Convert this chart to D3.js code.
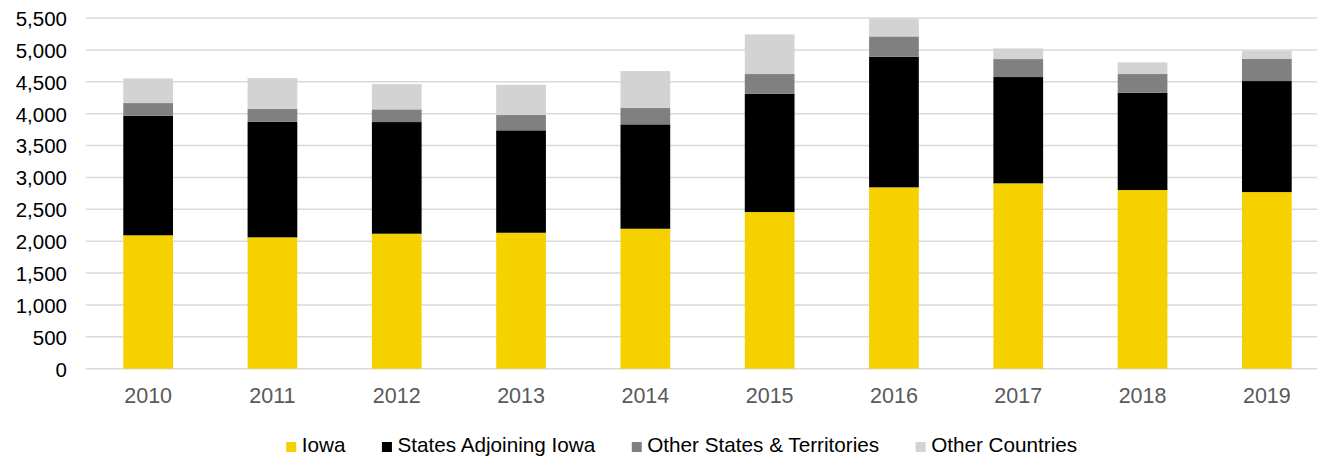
<!DOCTYPE html>
<html>
<head>
<meta charset="utf-8">
<script src="https://cdn.jsdelivr.net/npm/d3@7/dist/d3.min.js"></script>
<style>
  html, body { margin: 0; padding: 0; background: #fff; }
  svg { display: block; font-family: Arial, "Liberation Sans", sans-serif; }
</style>
</head>
<body>
<svg id="chart" width="1317" height="456"></svg>
<script>
// Enrollment by origin, 2010–2019
const years = ["2010", "2011", "2012", "2013", "2014", "2015", "2016", "2017", "2018", "2019"];
const iowa = [2092, 2060, 2117, 2132, 2195, 2457, 2844, 2907, 2802, 2770];
const adjoining = [1875, 1813, 1751, 1606, 1637, 1855, 2048, 1667, 1525, 1741];
const otherStates = [199, 204, 199, 240, 256, 309, 319, 282, 294, 350];
const otherCountries = [387, 481, 397, 475, 580, 622, 284, 167, 183, 125];

const seriesNames = ["Iowa", "States Adjoining Iowa", "Other States & Territories", "Other Countries"];
const seriesColors = ["#F5D100", "#000000", "#808080", "#D3D3D3"];
const yTicks = [0, 500, 1000, 1500, 2000, 2500, 3000, 3500, 4000, 4500, 5000, 5500];

const rows = years.map((y, i) => ({
  year: y,
  "Iowa": iowa[i],
  "States Adjoining Iowa": adjoining[i],
  "Other States & Territories": otherStates[i],
  "Other Countries": otherCountries[i]
}));

const svg = d3.select("#chart");
const W = 1317;

const x = d3.scaleBand().domain(years).range([86, 1329]).paddingInner(0.6).paddingOuter(0.3);
const y = d3.scaleLinear().domain([0, 5500]).range([368.7, 18]);
const color = d3.scaleOrdinal().domain(seriesNames).range(seriesColors);

// gridlines
svg.append("g")
  .selectAll("line")
  .data(yTicks)
  .join("line")
  .attr("x1", 86).attr("x2", W)
  .attr("y1", d => y(d)).attr("y2", d => y(d))
  .attr("stroke", "#D9D9D9")
  .attr("stroke-width", 1.5);

// y axis labels
const yAxis = d3.axisLeft(y).tickValues(yTicks).tickFormat(d3.format(",")).tickSize(0).tickPadding(0);
const gy = svg.append("g").attr("transform", "translate(67,0)").call(yAxis);
gy.select(".domain").remove();
gy.selectAll("text")
  .attr("font-size", 20.5)
  .attr("font-family", "Arial, 'Liberation Sans', sans-serif")
  .attr("fill", "#000")
  .attr("dy", "0.36em");

// stacked bars
const stack = d3.stack().keys(seriesNames)(rows);
svg.append("g")
  .selectAll("g")
  .data(stack)
  .join("g")
  .attr("fill", d => color(d.key))
  .selectAll("rect")
  .data(d => d)
  .join("rect")
  .attr("x", d => x(d.data.year))
  .attr("width", x.bandwidth())
  .attr("y", d => y(d[1]))
  .attr("height", d => y(d[0]) - y(d[1]));

// x axis labels
const xAxis = d3.axisBottom(x).tickSize(0).tickPadding(0);
const gx = svg.append("g").attr("transform", "translate(0,403)").call(xAxis);
gx.select(".domain").remove();
gx.selectAll("text")
  .attr("font-size", 21.5)
  .attr("font-family", "Arial, 'Liberation Sans', sans-serif")
  .attr("fill", "#595959")
  .attr("dy", 0);

// legend
const legend = svg.append("g").attr("transform", "translate(0,452)");
const items = legend.selectAll("g").data(seriesNames).join("g");
items.append("rect")
  .attr("width", 10).attr("height", 10)
  .attr("y", -10)
  .attr("fill", d => color(d));
items.append("text")
  .attr("x", 15.5)
  .attr("font-size", 20.7)
  .attr("fill", "#000")
  .text(d => d);
const gap = 36.5;
const widths = [];
items.each(function() {
  const w = 15.5 + d3.select(this).select("text").node().getComputedTextLength();
  widths.push(w);
});
const total = d3.sum(widths) + gap * (widths.length - 1);
let start = 681.7 - total / 2;
items.attr("transform", (d, i) => {
  const t = `translate(${start},0)`;
  start += widths[i] + gap;
  return t;
});
</script>
</body>
</html>
